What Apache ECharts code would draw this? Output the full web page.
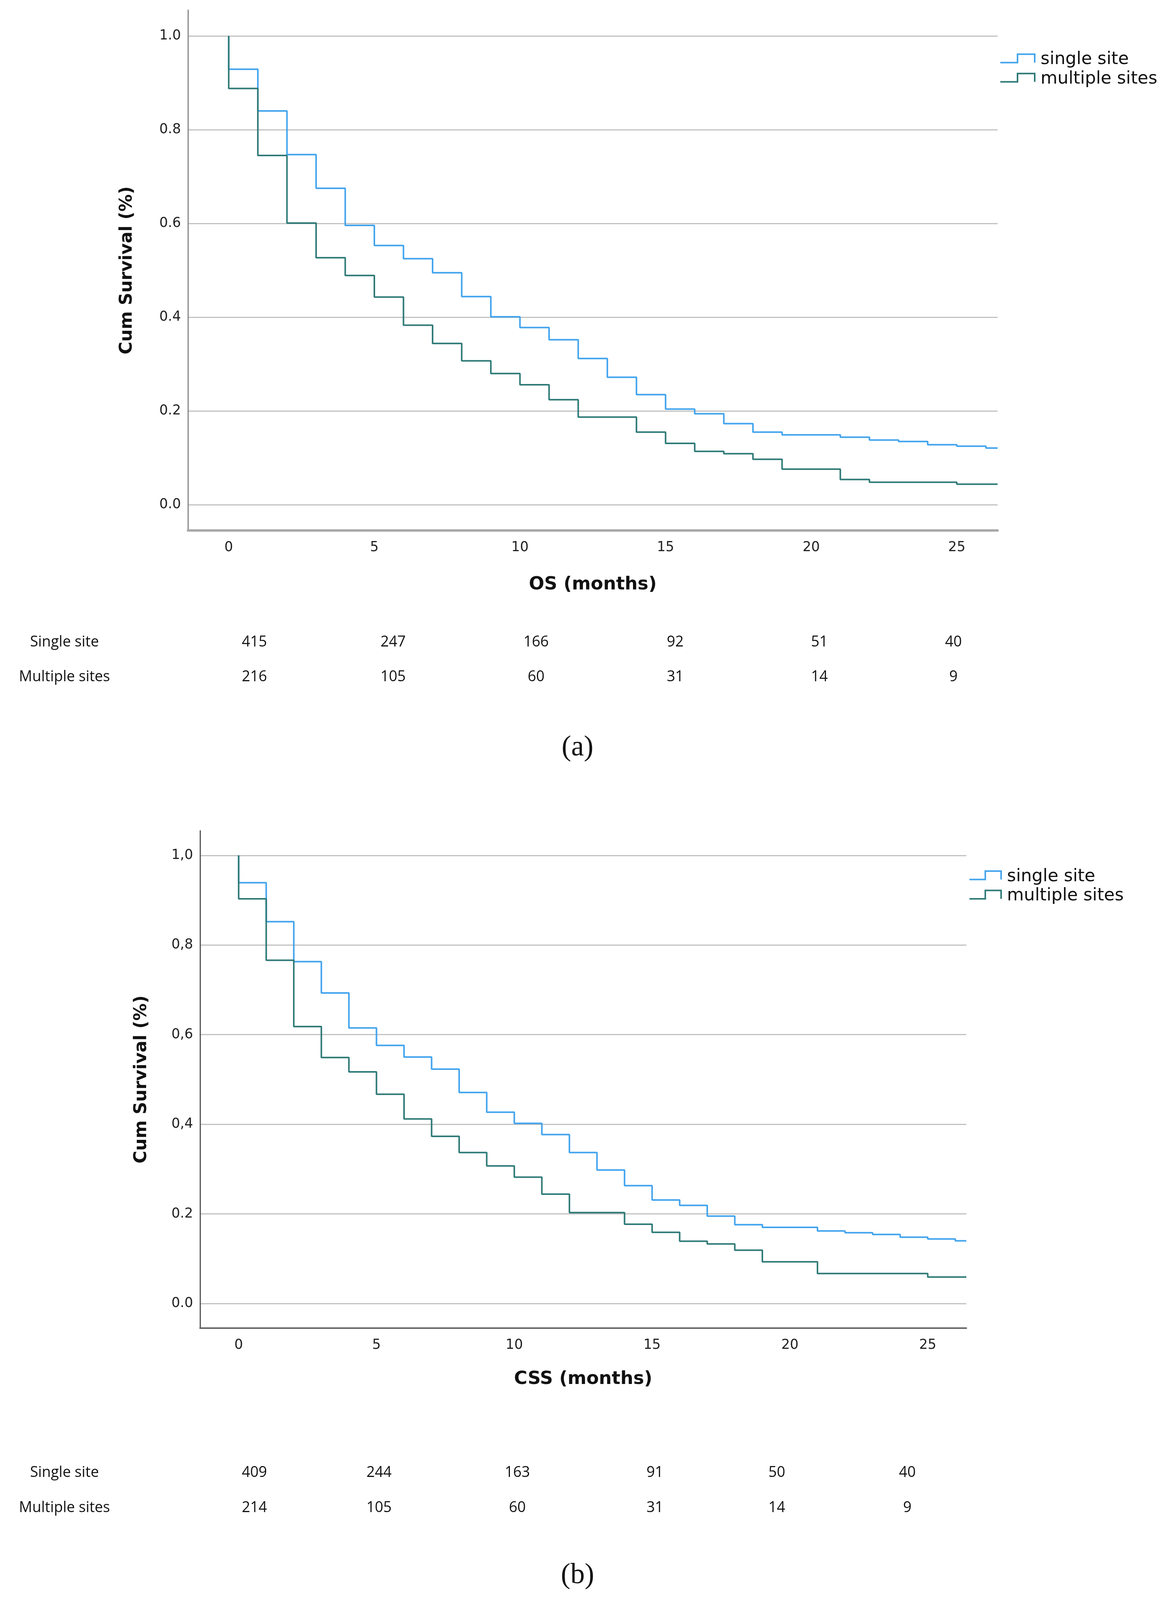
<!DOCTYPE html>
<html>
<head>
<meta charset="utf-8">
<script src="https://cdn.jsdelivr.net/npm/echarts@6/dist/echarts.min.js"></script>
<style>
html,body{margin:0;padding:0;background:#ffffff;overflow:hidden;}
#chart{width:100vw;height:100vh;}
</style>
</head>
<body>
<div id="chart"></div>
<script>
// ---------------- DATA ----------------
// (a) OS
const osTimesSingle   = [0, 1, 2, 3, 4, 5, 6, 7, 8, 9, 10, 11, 12, 13, 14, 15, 16, 17, 18, 19, 21, 22, 23, 24, 25, 26];
const osSurvSingle    = [0.929, 0.840, 0.747, 0.675, 0.596, 0.553, 0.525, 0.495, 0.444, 0.401, 0.378, 0.352, 0.312, 0.272, 0.235, 0.204, 0.194, 0.173, 0.155, 0.149, 0.144, 0.138, 0.135, 0.128, 0.125, 0.121];
const osTimesMultiple = [0, 1, 2, 3, 4, 5, 6, 7, 8, 9, 10, 11, 12, 14, 15, 16, 17, 18, 19, 21, 22, 25];
const osSurvMultiple  = [0.888, 0.745, 0.601, 0.527, 0.489, 0.443, 0.383, 0.344, 0.307, 0.280, 0.256, 0.224, 0.187, 0.155, 0.131, 0.114, 0.109, 0.097, 0.076, 0.054, 0.048, 0.044];
// (b) CSS
const cssTimesSingle   = [0, 1, 2, 3, 4, 5, 6, 7, 8, 9, 10, 11, 12, 13, 14, 15, 16, 17, 18, 19, 21, 22, 23, 24, 25, 26];
const cssSurvSingle    = [0.939, 0.852, 0.763, 0.693, 0.615, 0.576, 0.550, 0.523, 0.471, 0.427, 0.402, 0.377, 0.337, 0.298, 0.263, 0.231, 0.219, 0.195, 0.176, 0.170, 0.162, 0.158, 0.154, 0.148, 0.144, 0.140];
const cssTimesMultiple = [0, 1, 2, 3, 4, 5, 6, 7, 8, 9, 10, 11, 12, 14, 15, 16, 17, 18, 19, 21, 25];
const cssSurvMultiple  = [0.903, 0.766, 0.618, 0.549, 0.517, 0.467, 0.412, 0.373, 0.337, 0.307, 0.282, 0.244, 0.203, 0.177, 0.159, 0.139, 0.133, 0.119, 0.093, 0.067, 0.059];
const followUpEnd = 26.4;   // last follow-up time shown

const seriesNames = ['single site', 'multiple sites'];
const xTicks = [0, 5, 10, 15, 20, 25];
const yTicks = [0, 0.2, 0.4, 0.6, 0.8, 1.0];
const yTickLabelsA = ['0.0', '0.2', '0.4', '0.6', '0.8', '1.0'];
const yTickLabelsB = ['0.0', '0.2', '0,4', '0,6', '0,8', '1,0'];

const riskRowLabels = ['Single site', 'Multiple sites'];
const riskSingleA   = [415, 247, 166, 92, 51, 40];
const riskMultipleA = [216, 105, 60, 31, 14, 9];
const riskSingleB   = [409, 244, 163, 91, 50, 40];
const riskMultipleB = [214, 105, 60, 31, 14, 9];
const panelLabels = ['(a)', '(b)'];
const xTitles = ['OS (months)', 'CSS (months)'];
const yTitle = 'Cum Survival (%)';

// ---------------- STYLE / LAYOUT ----------------
const COLOR_SINGLE = '#42a4ee';
const COLOR_MULTI  = '#2e7a77';
const FONT = 'DejaVu Sans';
const TABLE_FONT = 'Open Sans';

// design space 2984 x 4397, scaled to the actual viewport
const W = window.innerWidth || 2984, H = window.innerHeight || 4397;
const sx = W / 2984, sy = H / 4397, sf = (sx + sy) / 2;
const X = v => v * sx, Y = v => v * sy, F = v => v * sf;

function kmData(times, surv) {
  const d = [[0, 1.0]];
  times.forEach((t, i) => d.push([t, surv[i]]));
  d.push([followUpEnd, surv[surv.length - 1]]);
  return d;
}

function yFormatter(labels) {
  return function (v) {
    for (let i = 0; i < yTicks.length; i++) {
      if (Math.abs(v - yTicks[i]) < 1e-6) return labels[i];
    }
    return '';
  };
}
function xFormatter(v) {
  for (let i = 0; i < xTicks.length; i++) {
    if (Math.abs(v - xTicks[i]) < 1e-6) return String(xTicks[i]);
  }
  return '';
}

function makeX(gridIndex, name, axisColor, axisWidth, nameGap, margin) {
  return {
    gridIndex: gridIndex, type: 'value', min: -1.4, max: 26.4,
    splitNumber: 5, minInterval: 5, maxInterval: 5,
    axisLine: {show: true, onZero: false, lineStyle: {color: axisColor, width: axisWidth}},
    axisTick: {show: false},
    splitLine: {show: false},
    axisLabel: {formatter: xFormatter, showMinLabel: false, showMaxLabel: false,
      fontFamily: FONT, fontSize: F(36), color: '#222', margin: Y(margin)},
    name: name, nameLocation: 'middle', nameGap: Y(nameGap),
    nameTextStyle: {fontFamily: FONT, fontSize: F(48), fontWeight: 'bold', color: '#111'}
  };
}
function makeY(gridIndex, labels, axisColor, nameGap) {
  return {
    gridIndex: gridIndex, type: 'value', min: -0.055, max: 1.055,
    splitNumber: 5, minInterval: 0.2, maxInterval: 0.2,
    axisLine: {show: true, onZero: false, lineStyle: {color: axisColor, width: 3}},
    axisTick: {show: false},
    splitLine: {show: true, showMinLine: false, showMaxLine: false,
      lineStyle: {color: '#c2c2c2', width: 3}},
    axisLabel: {formatter: yFormatter(labels), showMinLabel: false, showMaxLabel: false,
      fontFamily: FONT, fontSize: F(36), color: '#222', margin: X(18)},
    name: yTitle, nameLocation: 'middle', nameGap: X(nameGap),
    nameTextStyle: {fontFamily: FONT, fontSize: F(46), fontWeight: 'bold', color: '#111'}
  };
}
function kmSeries(name, xi, data, color) {
  return {
    name: name, type: 'line', step: 'end', xAxisIndex: xi, yAxisIndex: xi,
    data: data, showSymbol: false, symbol: 'none', animation: false,
    lineStyle: {color: color, width: 4}, itemStyle: {color: color}, clip: true
  };
}

// graphic elements: legends, risk tables, panel labels
const graphics = [];
function legend(iconX0, iconX1, textX, rowYs) {
  const colors = [COLOR_SINGLE, COLOR_MULTI];
  rowYs.forEach((c, i) => {
    const mid = (iconX0 + iconX1) / 2;
    graphics.push({type: 'polyline', silent: true,
      shape: {points: [[X(iconX0), Y(c + 8)], [X(mid), Y(c + 8)], [X(mid), Y(c - 15)], [X(iconX1), Y(c - 15)], [X(iconX1), Y(c + 8)]]},
      style: {stroke: colors[i], lineWidth: 4, fill: null}});
    graphics.push({type: 'text', silent: true, x: X(textX), y: Y(c),
      style: {text: seriesNames[i], fontFamily: FONT, fontSize: F(46), fill: '#111',
        align: 'left', verticalAlign: 'middle'}});
  });
}
function riskTable(cols, rowYs, rows) {
  rowYs.forEach((ry, r) => {
    graphics.push({type: 'text', silent: true, x: X(165), y: Y(ry),
      style: {text: riskRowLabels[r], fontFamily: TABLE_FONT, fontSize: F(39), fill: '#111',
        align: 'center', verticalAlign: 'middle'}});
    rows[r].forEach((v, k) => {
      graphics.push({type: 'text', silent: true, x: X(cols[k]), y: Y(ry),
        style: {text: String(v), fontFamily: TABLE_FONT, fontSize: F(39), fill: '#111',
          align: 'center', verticalAlign: 'middle'}});
    });
  });
}
function panelLabel(text, x, y) {
  graphics.push({type: 'text', silent: true, x: X(x), y: Y(y),
    style: {text: text, fontFamily: 'Liberation Serif', fontSize: F(76), fill: '#111',
      align: 'center', verticalAlign: 'middle'}});
}

legend(2560, 2648, 2663, [164, 217]);
legend(2481, 2562, 2577, [2409, 2462]);
riskTable([651, 1006, 1372, 1728, 2097, 2440], [1765, 1861], [riskSingleA, riskMultipleA]);
riskTable([651, 970, 1324, 1676, 1988, 2322], [4047, 4144], [riskSingleB, riskMultipleB]);
panelLabel(panelLabels[0], 1478, 2055);
panelLabel(panelLabels[1], 1478, 4330);

const option = {
  backgroundColor: '#ffffff',
  animation: false,
  grid: [
    {left: X(481), top: Y(28), width: X(2072), height: Y(1430)},
    {left: X(512), top: Y(2283), width: X(1961), height: Y(1367)}
  ],
  xAxis: [
    makeX(0, xTitles[0], '#a8a8a8', 6, 124, 28),
    makeX(1, xTitles[1], '#666666', 4, 116, 28)
  ],
  yAxis: [
    makeY(0, yTickLabelsA, '#888888', 134),
    makeY(1, yTickLabelsB, '#555555', 128)
  ],
  series: [
    kmSeries(seriesNames[0], 0, kmData(osTimesSingle, osSurvSingle), COLOR_SINGLE),
    kmSeries(seriesNames[1], 0, kmData(osTimesMultiple, osSurvMultiple), COLOR_MULTI),
    kmSeries(seriesNames[0], 1, kmData(cssTimesSingle, cssSurvSingle), COLOR_SINGLE),
    kmSeries(seriesNames[1], 1, kmData(cssTimesMultiple, cssSurvMultiple), COLOR_MULTI)
  ],
  graphic: graphics
};

const chart = echarts.init(document.getElementById('chart'), null, {renderer: 'canvas', width: W, height: H});
chart.setOption(option);
</script>
</body>
</html>
